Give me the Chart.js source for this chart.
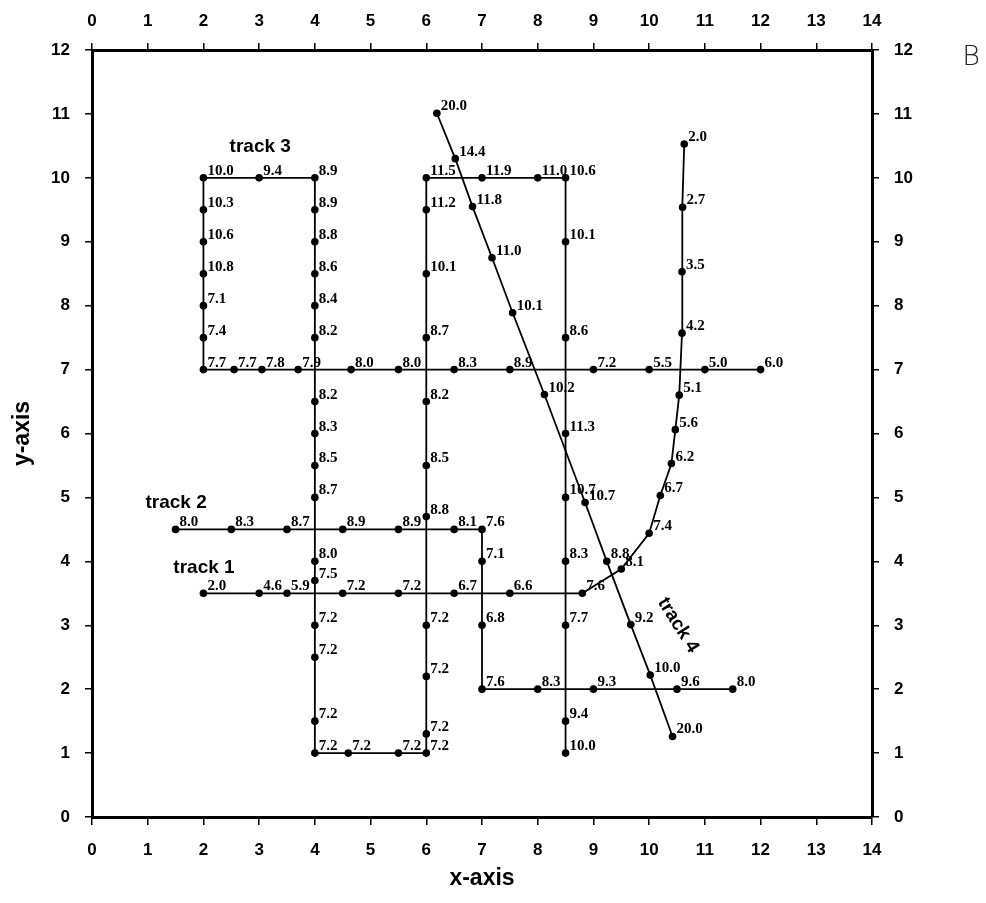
<!DOCTYPE html>
<html>
<head>
<meta charset="utf-8">
<script src="https://cdn.jsdelivr.net/npm/chart.js@4.4.1/dist/chart.umd.min.js"></script>
<style>
  html, body { margin: 0; padding: 0; background: #fff; }
  #wrap { width: 986px; height: 903px; }
</style>
</head>
<body>
<div id="wrap"><canvas id="chart" width="986" height="903"></canvas></div>
<script>
// main route: track 3 loop, down x=4, up x=6, down x=8.5
const routeX = [2, 2, 2, 2, 2, 2, 2,
  3,
  4, 4, 4, 4, 4, 4, 4, 4, 4, 4, 4, 4, 4, 4, 4, 4,
  4.6, 5.5,
  6, 6, 6, 6, 6, 6, 6, 6, 6, 6, 6,
  7, 8,
  8.5, 8.5, 8.5, 8.5, 8.5, 8.5, 8.5, 8.5, 8.5];
const routeY = [7, 7.5, 8, 8.5, 9, 9.5, 10,
  10,
  10, 9.5, 9, 8.5, 8, 7.5, 6.5, 6, 5.5, 5, 4, 3.7, 3, 2.5, 1.5, 1,
  1, 1,
  1, 1.3, 2.2, 3, 4.7, 5.5, 6.5, 7.5, 8.5, 9.5, 10,
  10, 10,
  10, 9, 7.5, 6, 5, 4, 3, 1.5, 1];
const routeVals = [7.7, 7.4, 7.1, 10.8, 10.6, 10.3, 10.0,
  9.4,
  8.9, 8.9, 8.8, 8.6, 8.4, 8.2, 8.2, 8.3, 8.5, 8.7, 8.0, 7.5, 7.2, 7.2, 7.2, 7.2,
  7.2, 7.2,
  7.2, 7.2, 7.2, 7.2, 8.8, 8.5, 8.2, 8.7, 10.1, 11.2, 11.5,
  11.9, 11.0,
  10.6, 10.1, 8.6, 11.3, 10.7, 8.3, 7.7, 9.4, 10.0];

// horizontal line at y=7 (first point shared with the route, no extra dot)
const row7X = [2, 2.55, 3.05, 3.7, 4.65, 5.5, 6.5, 7.5, 9, 10, 11, 12];
const row7Y = [7, 7, 7, 7, 7, 7, 7, 7, 7, 7, 7, 7];
const row7Vals = [null, 7.7, 7.8, 7.9, 8.0, 8.0, 8.3, 8.9, 7.2, 5.5, 5.0, 6.0];

const track2X = [1.5, 2.5, 3.5, 4.5, 5.5, 6.5, 7, 7, 7, 7, 8, 9, 10.5, 11.5];
const track2Y = [4.5, 4.5, 4.5, 4.5, 4.5, 4.5, 4.5, 4, 3, 2, 2, 2, 2, 2];
const track2Vals = [8.0, 8.3, 8.7, 8.9, 8.9, 8.1, 7.6, 7.1, 6.8, 7.6, 8.3, 9.3, 9.6, 8.0];

const track1X = [2, 3, 3.5, 4.5, 5.5, 6.5, 7.5, 8.8, 9.5, 10.0, 10.2, 10.4, 10.47, 10.54, 10.59, 10.59, 10.6, 10.63];
const track1Y = [3.5, 3.5, 3.5, 3.5, 3.5, 3.5, 3.5, 3.5, 3.88, 4.44, 5.03, 5.53, 6.06, 6.6, 7.57, 8.53, 9.54, 10.53];
const track1Vals = [2.0, 4.6, 5.9, 7.2, 7.2, 6.7, 6.6, 7.6, 8.1, 7.4, 6.7, 6.2, 5.6, 5.1, 4.2, 3.5, 2.7, 2.0];

const track4X = [6.19, 6.52, 6.83, 7.18, 7.55, 8.12, 8.85, 9.24, 9.67, 10.02, 10.42];
const track4Y = [11.01, 10.3, 9.55, 8.75, 7.89, 6.61, 4.92, 4.0, 3.01, 2.22, 1.26];
const track4Vals = [20.0, 14.4, 11.8, 11.0, 10.1, 10.2, 10.7, 8.8, 9.2, 10.0, 20.0];

const trackNames = ["track 1", "track 2", "track 3", "track 4"];

function makeSet(xs, ys, vals) {
  return {
    data: xs.map((x, i) => ({ x: x, y: ys[i] })),
    values: vals,
    showLine: true,
    borderColor: "#000",
    borderWidth: 1.8,
    backgroundColor: "#000",
    pointBackgroundColor: "#000",
    pointBorderWidth: 0,
    pointRadius: (c) => (vals[c.dataIndex] == null ? 0 : 3.8),
    tension: 0,
    clip: false,
  };
}

// value labels beside each dot + track names + panel letter
const labelPlugin = {
  id: "pointLabels",
  afterDatasetsDraw(chart) {
    const ctx = chart.ctx;
    const xs = chart.scales.x;
    const ys = chart.scales.y;
    ctx.save();
    ctx.fillStyle = "#000";
    ctx.font = "bold 15px 'Liberation Serif'";
    ctx.textAlign = "left";
    ctx.textBaseline = "alphabetic";
    chart.data.datasets.forEach((ds, di) => {
      const meta = chart.getDatasetMeta(di);
      meta.data.forEach((el, i) => {
        const v = ds.values[i];
        if (v == null) return;
        ctx.fillText(v.toFixed(1), el.x + 4, el.y - 3);
      });
    });

    ctx.font = "bold 19px 'Liberation Sans'";
    ctx.textAlign = "center";
    ctx.textBaseline = "middle";
    const spots = [[2.01, 3.9, 0], [1.51, 4.92, 0], [3.02, 10.48, 0], [10.52, 3.0, 58]];
    trackNames.forEach((t, i) => {
      const [dx, dy, rot] = spots[i];
      ctx.save();
      ctx.translate(xs.getPixelForValue(dx), ys.getPixelForValue(dy));
      ctx.rotate((rot * Math.PI) / 180);
      ctx.fillText(t, 0, 0);
      ctx.restore();
    });

    ctx.font = "200 27px 'DejaVu Sans'";
    ctx.fillStyle = "#222";
    ctx.fillText("B", chart.width - 15, 58);
    ctx.restore();
  },
};

const tickFont = { family: "'Liberation Sans'", size: 17, weight: "bold" };
const titleFont = { family: "'Liberation Sans'", size: 23, weight: "bold" };
const gridOpts = { drawOnChartArea: false, tickLength: 7, color: "#000", lineWidth: 1.5 };
const borderOpts = { color: "#000", width: 3 };

new Chart(document.getElementById("chart"), {
  type: "scatter",
  data: {
    datasets: [
      makeSet(routeX, routeY, routeVals),
      makeSet(row7X, row7Y, row7Vals),
      makeSet(track2X, track2Y, track2Vals),
      makeSet(track1X, track1Y, track1Vals),
      makeSet(track4X, track4Y, track4Vals),
    ],
  },
  options: {
    responsive: false,
    animation: false,
    layout: { padding: 0 },
    plugins: { legend: { display: false }, tooltip: { enabled: false } },
    scales: {
      x: {
        type: "linear", position: "bottom", min: 0, max: 14,
        ticks: { stepSize: 1, font: tickFont, color: "#000", padding: 15 },
        grid: Object.assign({}, gridOpts, { tickLength: 8 }),
        border: borderOpts,
        title: { display: true, text: "x-axis", font: titleFont, color: "#000", padding: { top: 0, bottom: 11 } },
        afterFit: (s) => { s.height = 86; },
      },
      xTop: {
        type: "linear", position: "top", min: 0, max: 14,
        ticks: { stepSize: 1, font: tickFont, color: "#000", padding: 11 },
        grid: gridOpts,
        border: borderOpts,
        afterFit: (s) => { s.height = 50; },
      },
      y: {
        type: "linear", position: "left", min: 0, max: 12,
        ticks: { stepSize: 1, font: tickFont, color: "#000", padding: 15 },
        grid: gridOpts,
        border: borderOpts,
        title: { display: true, text: "y-axis", font: titleFont, color: "#000", padding: { top: 9, bottom: 0 } },
        afterFit: (s) => { s.width = 92; },
      },
      yRight: {
        type: "linear", position: "right", min: 0, max: 12,
        ticks: { stepSize: 1, font: tickFont, color: "#000", padding: 15 },
        grid: gridOpts,
        border: borderOpts,
        afterFit: (s) => { s.width = 114; },
      },
    },
  },
  plugins: [labelPlugin],
});
</script>
</body>
</html>
